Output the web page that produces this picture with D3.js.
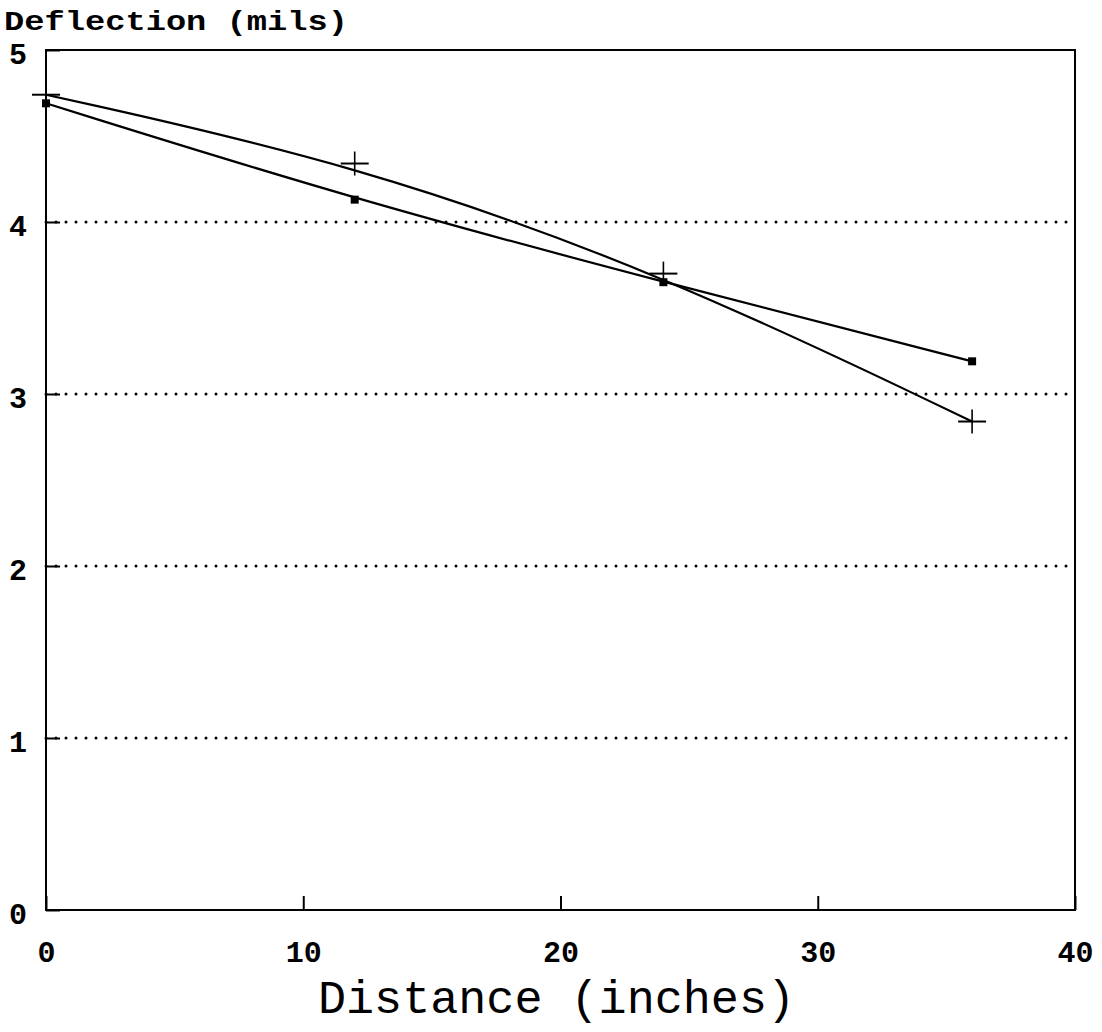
<!DOCTYPE html>
<html>
<head>
<meta charset="utf-8">
<script src="https://cdn.jsdelivr.net/npm/d3@7"></script>
<style>
  body { margin: 0; background: #fff; }
  svg { display: block; }
  text { font-family: "Liberation Mono", "DejaVu Sans Mono", monospace; fill: #000; }
</style>
</head>
<body>
<div id="chart"></div>
<script>
// deflection readings vs distance
const distances = [0, 12, 24, 36];
const plusSeries = [4.74, 4.34, 3.70, 2.84];
const squareSeries = [4.69, 4.13, 3.65, 3.19];
const xTicks = [0, 10, 20, 30, 40];
const yTicks = [0, 1, 2, 3, 4, 5];
const gridValues = [1, 2, 3, 4];

const width = 1102, height = 1032;
const margin = { left: 46, right: 27, top: 50, bottom: 122 };

const svg = d3.select("#chart").append("svg")
    .attr("width", width)
    .attr("height", height);

const x = d3.scaleLinear().domain([0, 40]).range([margin.left, width - margin.right]);
const y = d3.scaleLinear().domain([0, 5]).range([height - margin.bottom, margin.top]);

// dotted gridlines
svg.append("g").selectAll("line")
    .data(gridValues)
    .join("line")
    .attr("x1", x(0)).attr("x2", x(40))
    .attr("y1", d => y(d)).attr("y2", d => y(d))
    .attr("stroke", "#000")
    .attr("stroke-width", 3)
    .attr("stroke-linecap", "round")
    .attr("stroke-dasharray", "0,10");

// x axis, ticks point inward
const xAxis = svg.append("g")
    .attr("transform", `translate(0,${y(0)})`)
    .call(d3.axisBottom(x).tickValues(xTicks).tickSize(-14).tickPadding(31).tickFormat(d3.format("d")));
xAxis.select(".domain").remove();
xAxis.selectAll("line").attr("stroke-width", 2);
xAxis.selectAll("text")
    .attr("font-size", 30)
    .attr("font-weight", "bold")
    .attr("font-family", "'Liberation Mono', monospace");

const yAxis = svg.append("g")
    .attr("transform", `translate(${x(0)},0)`)
    .call(d3.axisLeft(y).tickValues(yTicks).tickSize(-14).tickPadding(19).tickFormat(d3.format("d")));
yAxis.select(".domain").remove();
yAxis.selectAll("line").attr("stroke-width", 2);
yAxis.selectAll("text")
    .attr("font-size", 30)
    .attr("font-weight", "bold")
    .attr("dy", "0.45em")
    .attr("font-family", "'Liberation Mono', monospace");

// frame
svg.append("rect")
    .attr("x", x(0)).attr("y", y(5))
    .attr("width", x(40) - x(0))
    .attr("height", y(0) - y(5))
    .attr("fill", "none")
    .attr("stroke", "#000")
    .attr("stroke-width", 2);

// series lines
const line = d3.line()
    .x((d, i) => x(distances[i]))
    .y(d => y(d))
    .curve(d3.curveBasis);

[plusSeries, squareSeries].forEach(s => {
  svg.append("path")
      .attr("d", line(s))
      .attr("fill", "none")
      .attr("stroke", "#000")
      .attr("stroke-width", 2.2);
});

// plus markers
const plus = svg.append("g").selectAll("g")
    .data(plusSeries)
    .join("g")
    .attr("transform", (d, i) => `translate(${x(distances[i])},${y(d)})`);
plus.append("line").attr("x1", -14).attr("x2", 14).attr("stroke", "#000").attr("stroke-width", 2);
plus.append("line").attr("y1", -12).attr("y2", 12).attr("stroke", "#000").attr("stroke-width", 1.6);

// square markers
svg.append("g").selectAll("rect")
    .data(squareSeries)
    .join("rect")
    .attr("x", (d, i) => x(distances[i]) - 4)
    .attr("y", d => y(d) - 4)
    .attr("width", 8).attr("height", 8)
    .attr("fill", "#000");

// titles
svg.append("text")
    .attr("x", 4).attr("y", 30)
    .attr("font-size", 28)
    .attr("font-weight", "bold")
    .attr("textLength", 344)
    .attr("lengthAdjust", "spacingAndGlyphs")
    .text("Deflection (mils)");

svg.append("text")
    .attr("x", 318).attr("y", 1013)
    .attr("font-size", 46)
    .attr("textLength", 477)
    .attr("lengthAdjust", "spacingAndGlyphs")
    .text("Distance (inches)");
</script>
</body>
</html>
